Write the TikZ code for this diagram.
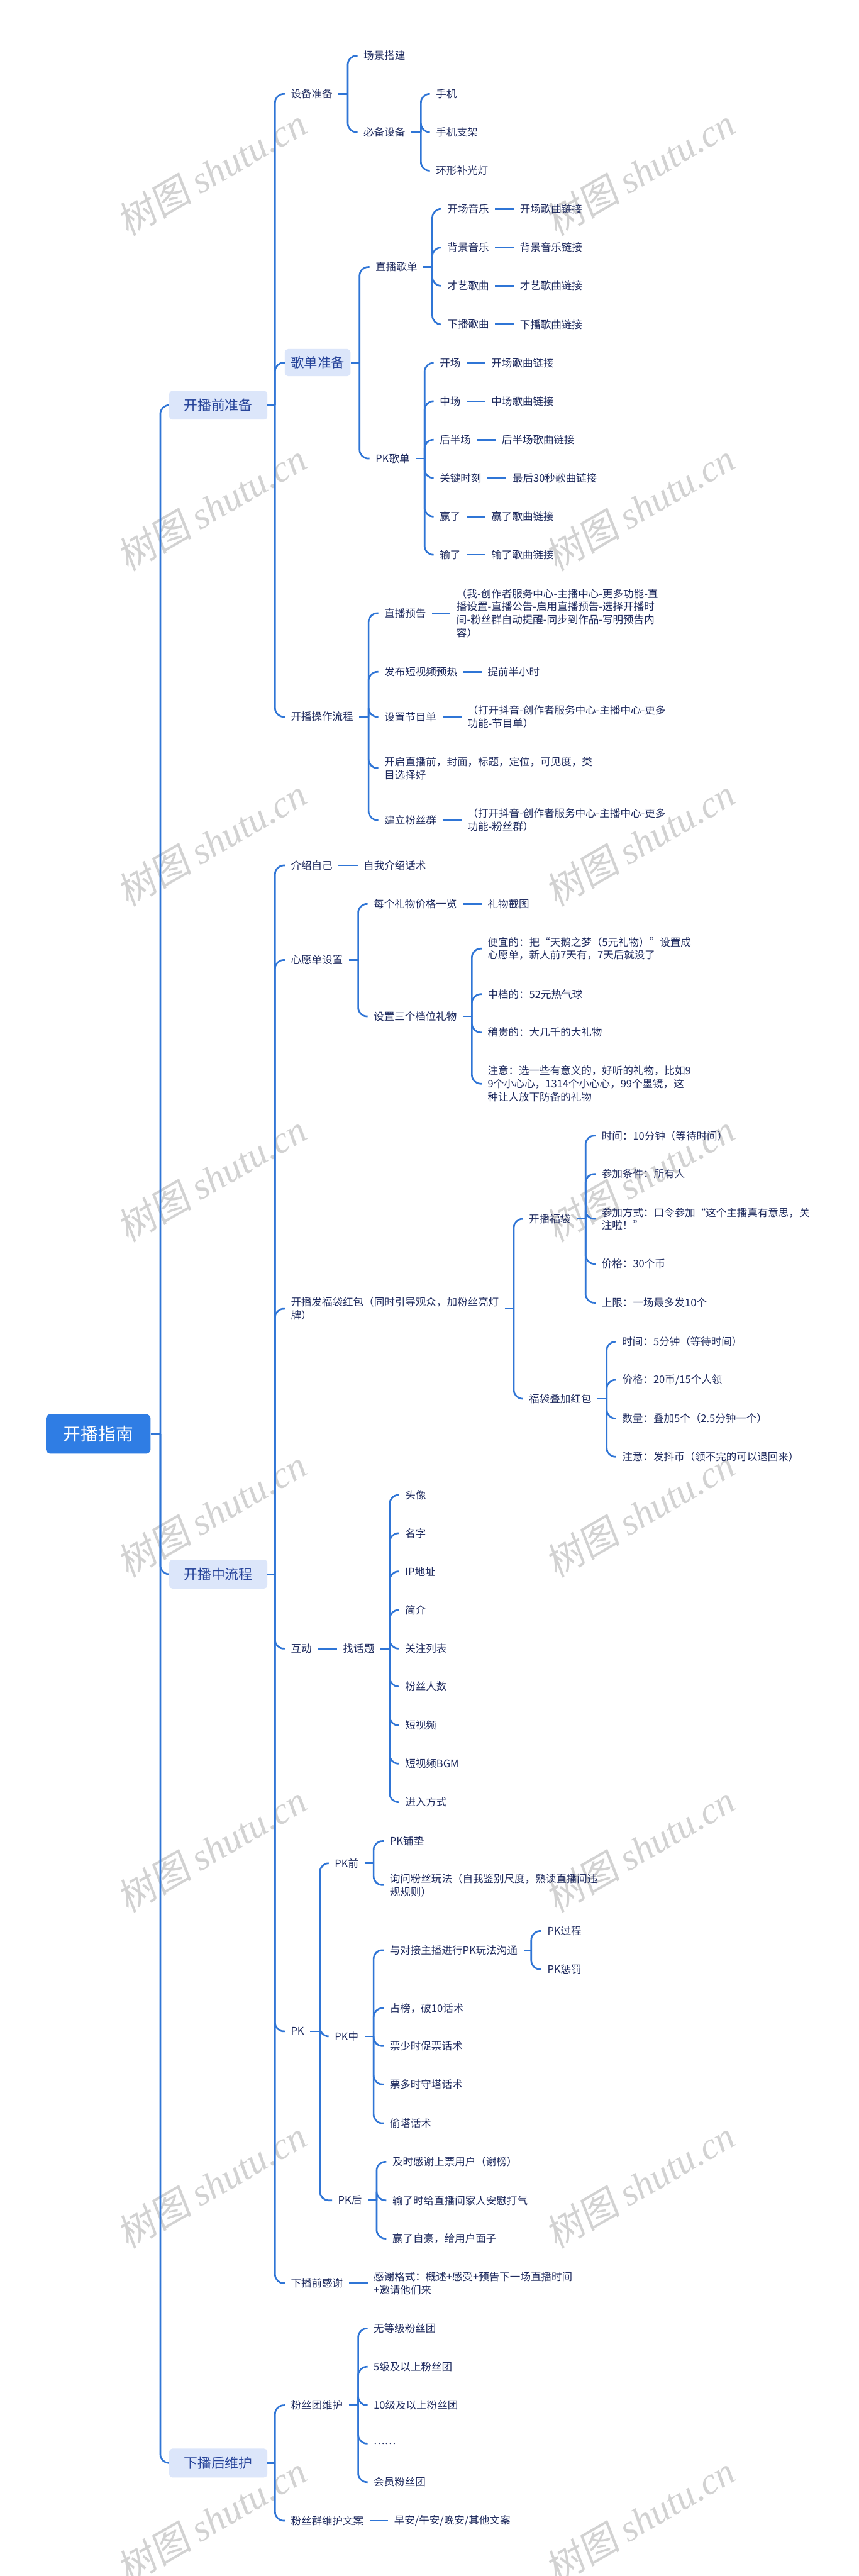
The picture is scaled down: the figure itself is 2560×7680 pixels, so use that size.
\documentclass[tikz,border=0pt]{standalone}
\usepackage{fontspec}
\setmainfont{Noto Sans CJK SC}
\newfontfamily\wmlat{Liberation Serif}
\newfontfamily\wmcjk{Noto Sans CJK SC}[FakeSlant=0.15]
\definecolor{lc}{HTML}{2F75D6}
\definecolor{txc}{HTML}{1E2A5E}
\definecolor{lonef}{HTML}{DCE6FA}
\definecolor{lonet}{HTML}{27449A}
\definecolor{rtf}{HTML}{2F7DE4}
\definecolor{wmc}{HTML}{D2D2D2}
\tikzset{
  tx/.style={anchor=west, xshift=-18pt, inner xsep=18pt, inner ysep=3pt, text=txc, font=\fontsize{31}{39}\selectfont, align=left},
  lk/.style={draw=lc, line width=5pt, rounded corners=26pt},
  lvone/.style={anchor=west, fill=lonef, rounded corners=10pt, text=lonet, font=\fontsize{41}{50}\selectfont, inner xsep=44pt, minimum height=86pt},
  boxtwo/.style={anchor=west, fill=lonef, rounded corners=10pt, text=lonet, font=\fontsize{40}{48}\selectfont, inner xsep=18pt, minimum height=81pt},
  rootbox/.style={fill=rtf, text=white, rounded corners=14pt, font=\fontsize{52}{60}\selectfont, inner xsep=52pt, minimum height=118pt},
  wm/.style={text=wmc, rotate=30, font=\fontsize{112}{120}\selectfont}
}
\begin{document}
\begin{tikzpicture}[x=1pt,y=-1pt]
\fill[white] (0,0) rectangle (2560,7680);
\useasboundingbox (0,0) rectangle (2560,7680);
% watermarks
\foreach \k in {0,...,7}{
  \node[wm] (wl\k) at (631,512+1000*\k) {{\wmcjk 树图} {\wmlat\itshape shutu.cn}};
  \node[wm] (wr\k) at (1908,512+1000*\k) {{\wmcjk 树图} {\wmlat\itshape shutu.cn}};
}
% root and level 1
\node[rootbox] (R) at (293,4275) {开播指南};
\coordinate (j0) at (478,4275);
\node[lvone] (A) at (504,1208) {开播前准备};
\node[lvone] (B) at (504,4693) {开播中流程};
\node[lvone] (C) at (504,7343) {下播后维护};
\coordinate (jA) at (820,1208);
\coordinate (jB) at (820,4693);
\coordinate (jC) at (820,7343);
% ---------------- A
\node[tx] (a1) at (867,280) {设备准备};
\node[boxtwo] (a2) at (849,1081) {歌单准备};
\node[tx] (a3) at (867,2137) {开播操作流程};
\coordinate (ja1) at (1037,280);
\node[tx] (a11) at (1084,166) {场景搭建};
\node[tx] (a12) at (1084,394) {必备设备};
\coordinate (ja12) at (1255,394);
\node[tx] (a121) at (1300,280) {手机};
\node[tx] (a122) at (1300,394) {手机支架};
\node[tx] (a123) at (1300,509) {环形补光灯};
\coordinate (ja2) at (1072,1081);
\node[tx] (a21) at (1120,796) {直播歌单};
\node[tx] (a22) at (1120,1367) {PK歌单};
\coordinate (ja21) at (1289,796);
\node[tx] (s1) at (1334,623) {开场音乐};
\node[tx] (s2) at (1334,738) {背景音乐};
\node[tx] (s3) at (1334,852) {才艺歌曲};
\node[tx] (s4) at (1334,967) {下播歌曲};
\node[tx] (s1x) at (1550,623) {开场歌曲链接};
\node[tx] (s2x) at (1550,738) {背景音乐链接};
\node[tx] (s3x) at (1550,852) {才艺歌曲链接};
\node[tx] (s4x) at (1550,967) {下播歌曲链接};
\coordinate (ja22) at (1266,1367);
\node[tx] (p1) at (1311,1082) {开场};
\node[tx] (p2) at (1311,1196) {中场};
\node[tx] (p3) at (1311,1311) {后半场};
\node[tx] (p4) at (1311,1425) {关键时刻};
\node[tx] (p5) at (1311,1540) {赢了};
\node[tx] (p6) at (1311,1654) {输了};
\node[tx] (p1x) at (1465,1082) {开场歌曲链接};
\node[tx] (p2x) at (1465,1196) {中场歌曲链接};
\node[tx] (p3x) at (1496,1311) {后半场歌曲链接};
\node[tx] (p4x) at (1528,1425) {最后30秒歌曲链接};
\node[tx] (p5x) at (1465,1540) {赢了歌曲链接};
\node[tx] (p6x) at (1465,1654) {输了歌曲链接};
\coordinate (ja3) at (1099,2137);
\node[tx] (o1) at (1146,1828) {直播预告};
\node[tx] (o1x) at (1361,1828) {（我-创作者服务中心-主播中心-更多功能-直\\播设置-直播公告-启用直播预告-选择开播时\\间-粉丝群自动提醒-同步到作品-写明预告内\\容）};
\node[tx] (o2) at (1146,2003) {发布短视频预热};
\node[tx] (o2x) at (1454,2003) {提前半小时};
\node[tx] (o3) at (1146,2137) {设置节目单};
\node[tx] (o3x) at (1394,2137) {（打开抖音-创作者服务中心-主播中心-更多\\功能-节目单）};
\node[tx] (o4) at (1146,2290) {开启直播前，封面，标题，定位，可见度，类\\目选择好};
\node[tx] (o5) at (1146,2445) {建立粉丝群};
\node[tx] (o5x) at (1394,2445) {（打开抖音-创作者服务中心-主播中心-更多\\功能-粉丝群）};
% ---------------- B
\node[tx] (b1) at (867,2580) {介绍自己};
\node[tx] (b1x) at (1084,2580) {自我介绍话术};
\node[tx] (b2) at (867,2862) {心愿单设置};
\coordinate (jb2) at (1068,2862);
\node[tx] (b21) at (1114,2695) {每个礼物价格一览};
\node[tx] (b21x) at (1454,2695) {礼物截图};
\node[tx] (b22) at (1114,3030) {设置三个档位礼物};
\coordinate (jb22) at (1407,3030);
\node[tx] (g1) at (1454,2828) {便宜的：把“天鹅之梦（5元礼物）”设置成\\心愿单，新人前7天有，7天后就没了};
\node[tx] (g2) at (1454,2964) {中档的：52元热气球};
\node[tx] (g3) at (1454,3078) {稍贵的：大几千的大礼物};
\node[tx] (g4) at (1454,3231) {注意：选一些有意义的，好听的礼物，比如9\\9个小心心，1314个小心心，99个墨镜，这\\种让人放下防备的礼物};
\node[tx] (b3) at (867,3902) {开播发福袋红包（同时引导观众，加粉丝亮灯\\牌）};
\coordinate (jb3) at (1532,3902);
\node[tx] (b31) at (1577,3634) {开播福袋};
\coordinate (jb31) at (1746,3634);
\node[tx] (f1) at (1794,3386) {时间：10分钟（等待时间）};
\node[tx] (f2) at (1794,3500) {参加条件：所有人};
\node[tx] (f3) at (1794,3634) {参加方式：口令参加“这个主播真有意思，关\\注啦！”};
\node[tx] (f4) at (1794,3768) {价格：30个币};
\node[tx] (f5) at (1794,3884) {上限：一场最多发10个};
\node[tx] (b32) at (1577,4170) {福袋叠加红包};
\coordinate (jb32) at (1809,4170);
\node[tx] (h1) at (1855,4000) {时间：5分钟（等待时间）};
\node[tx] (h2) at (1855,4114) {价格：20币/15个人领};
\node[tx] (h3) at (1855,4229) {数量：叠加5个（2.5分钟一个）};
\node[tx] (h4) at (1855,4343) {注意：发抖币（领不完的可以退回来）};
\node[tx] (b4) at (867,4915) {互动};
\node[tx] (b41) at (1023,4915) {找话题};
\coordinate (jb41) at (1162,4915);
\node[tx] (t1) at (1208,4457) {头像};
\node[tx] (t2) at (1208,4571) {名字};
\node[tx] (t3) at (1208,4685) {IP地址};
\node[tx] (t4) at (1208,4800) {简介};
\node[tx] (t5) at (1208,4915) {关注列表};
\node[tx] (t6) at (1208,5028) {粉丝人数};
\node[tx] (t7) at (1208,5144) {短视频};
\node[tx] (t8) at (1208,5258) {短视频BGM};
\node[tx] (t9) at (1208,5373) {进入方式};
\node[tx] (b5) at (867,6056) {PK};
\coordinate (jb5) at (954,6056);
\node[tx] (k1) at (998,5555) {PK前};
\coordinate (jk1) at (1114,5555);
\node[tx] (k11) at (1162,5489) {PK铺垫};
\node[tx] (k12) at (1162,5620) {询问粉丝玩法（自我鉴别尺度，熟读直播间违\\规规则）};
\node[tx] (k2) at (998,6071) {PK中};
\coordinate (jk2) at (1114,6071);
\node[tx] (k21) at (1162,5814) {与对接主播进行PK玩法沟通};
\coordinate (jk21) at (1584,5814);
\node[tx] (k211) at (1632,5757) {PK过程};
\node[tx] (k212) at (1632,5871) {PK惩罚};
\node[tx] (k22) at (1162,5987) {占榜，破10话术};
\node[tx] (k23) at (1162,6100) {票少时促票话术};
\node[tx] (k24) at (1162,6214) {票多时守塔话术};
\node[tx] (k25) at (1162,6330) {偷塔话术};
\node[tx] (k3) at (1008,6560) {PK后};
\coordinate (jk3) at (1123,6560);
\node[tx] (k31) at (1170,6445) {及时感谢上票用户（谢榜）};
\node[tx] (k32) at (1170,6560) {输了时给直播间家人安慰打气};
\node[tx] (k33) at (1170,6674) {赢了自豪，给用户面子};
\node[tx] (b6) at (867,6807) {下播前感谢};
\node[tx] (b6x) at (1114,6807) {感谢格式：概述+感受+预告下一场直播时间\\+邀请他们来};
% ---------------- C
\node[tx] (c1) at (867,7171) {粉丝团维护};
\coordinate (jc1) at (1068,7171);
\node[tx] (c11) at (1114,6942) {无等级粉丝团};
\node[tx] (c12) at (1114,7056) {5级及以上粉丝团};
\node[tx] (c13) at (1114,7171) {10级及以上粉丝团};
\node[tx] (c14) at (1114,7285) {……};
\node[tx] (c15) at (1114,7400) {会员粉丝团};
\node[tx] (c2) at (867,7515) {粉丝群维护文案};
\node[tx] (c2x) at (1175,7515) {早安/午安/晚安/其他文案};
% ---------------- connectors
\draw[lk] (R.east) -- (j0);
\foreach \n in {A,B,C} \draw[lk] (j0) |- (\n.west);
\draw[lk] (A.east) -- (jA);
\draw[lk] (B.east) -- (jB);
\draw[lk] (C.east) -- (jC);
\foreach \n in {a1,a2,a3} \draw[lk] (jA) |- (\n.west);
\draw[lk] (a1.east) -- (ja1);
\foreach \n in {a11,a12} \draw[lk] (ja1) |- (\n.west);
\draw[lk] (a12.east) -- (ja12);
\foreach \n in {a121,a122,a123} \draw[lk] (ja12) |- (\n.west);
\draw[lk] (a2.east) -- (ja2);
\foreach \n in {a21,a22} \draw[lk] (ja2) |- (\n.west);
\draw[lk] (a21.east) -- (ja21);
\foreach \n in {s1,s2,s3,s4} {\draw[lk] (ja21) |- (\n.west); \draw[lk] (\n.east) -- (\n x.west);}
\draw[lk] (a22.east) -- (ja22);
\foreach \n in {p1,p2,p3,p4,p5,p6} {\draw[lk] (ja22) |- (\n.west); \draw[lk] (\n.east) -- (\n x.west);}
\draw[lk] (a3.east) -- (ja3);
\foreach \n in {o1,o2,o3,o4,o5} \draw[lk] (ja3) |- (\n.west);
\foreach \n in {o1,o2,o3,o5} \draw[lk] (\n.east) -- (\n x.west);
\foreach \n in {b1,b2,b3,b4,b5,b6} \draw[lk] (jB) |- (\n.west);
\draw[lk] (b1.east) -- (b1x.west);
\draw[lk] (b2.east) -- (jb2);
\foreach \n in {b21,b22} \draw[lk] (jb2) |- (\n.west);
\draw[lk] (b21.east) -- (b21x.west);
\draw[lk] (b22.east) -- (jb22);
\foreach \n in {g1,g2,g3,g4} \draw[lk] (jb22) |- (\n.west);
\draw[lk] (b3.east) -- (jb3);
\foreach \n in {b31,b32} \draw[lk] (jb3) |- (\n.west);
\draw[lk] (b31.east) -- (jb31);
\foreach \n in {f1,f2,f3,f4,f5} \draw[lk] (jb31) |- (\n.west);
\draw[lk] (b32.east) -- (jb32);
\foreach \n in {h1,h2,h3,h4} \draw[lk] (jb32) |- (\n.west);
\draw[lk] (b4.east) -- (b41.west);
\draw[lk] (b41.east) -- (jb41);
\foreach \n in {t1,t2,t3,t4,t5,t6,t7,t8,t9} \draw[lk] (jb41) |- (\n.west);
\draw[lk] (b5.east) -- (jb5);
\foreach \n in {k1,k2,k3} \draw[lk] (jb5) |- (\n.west);
\draw[lk] (k1.east) -- (jk1);
\foreach \n in {k11,k12} \draw[lk] (jk1) |- (\n.west);
\draw[lk] (k2.east) -- (jk2);
\foreach \n in {k21,k22,k23,k24,k25} \draw[lk] (jk2) |- (\n.west);
\draw[lk] (k21.east) -- (jk21);
\foreach \n in {k211,k212} \draw[lk] (jk21) |- (\n.west);
\draw[lk] (k3.east) -- (jk3);
\foreach \n in {k31,k32,k33} \draw[lk] (jk3) |- (\n.west);
\draw[lk] (b6.east) -- (b6x.west);
\foreach \n in {c1,c2} \draw[lk] (jC) |- (\n.west);
\draw[lk] (c1.east) -- (jc1);
\foreach \n in {c11,c12,c13,c14,c15} \draw[lk] (jc1) |- (\n.west);
\draw[lk] (c2.east) -- (c2x.west);
\end{tikzpicture}
\end{document}
